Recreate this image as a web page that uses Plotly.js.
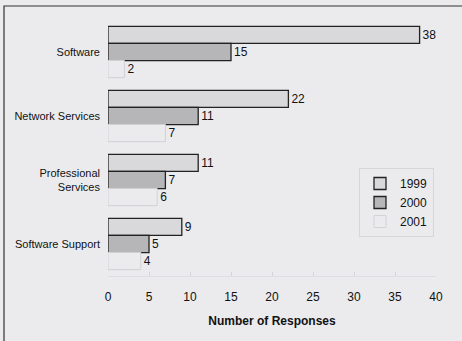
<!DOCTYPE html>
<html><head><meta charset="utf-8">
<script src="https://cdn.plot.ly/plotly-3.0.1.min.js"></script>
<style>html,body{margin:0;padding:0;background:#ebebee;}#c{width:462px;height:341px;}</style>
</head><body><div id="c"></div>
<script>
const categories = ["Software", "Network Services", "Professional<br>Services", "Software Support"];
const years = ["1999", "2000", "2001"];
const v1999 = [38, 22, 11, 9];
const v2000 = [15, 11, 7, 5];
const v2001 = [2, 7, 6, 4];
const xTicks = [0, 5, 10, 15, 20, 25, 30, 35, 40];

const fills = ["#d9d9db", "#b6b6b8", "#ebebee"];
const lines = ["#222222", "#222222", "#d2d2d5"];
const series = [v1999, v2000, v2001];
const traces = series.map((vals, i) => ({
  type: "bar", orientation: "h", name: years[i],
  y: categories, x: vals,
  text: vals.map(String), textposition: "outside", cliponaxis: false,
  textfont: {family: "Liberation Sans, Arial", size: 12, color: "#111"},
  marker: {color: fills[i], line: {color: lines[i], width: i < 2 ? 1.3 : 1}},
  hoverinfo: "none"
}));

const layout = {
  width: 462, height: 341,
  paper_bgcolor: "#ebebee", plot_bgcolor: "#ebebee",
  margin: {l: 108, r: 26, t: 20, b: 65},
  font: {family: "Liberation Sans, Arial", color: "#111", size: 12},
  barmode: "group", bargap: 0.2, bargroupgap: 0,
  xaxis: {range: [0, 40], tickvals: xTicks, showgrid: false, zeroline: false,
    showline: true, linecolor: "#dedee2", linewidth: 1,
    ticks: "inside", ticklen: 4, tickcolor: "#d6d6da",
    tickfont: {size: 12}, ticklabelstandoff: 10,
    title: {text: "<b>Number of Responses</b>", font: {size: 12}, standoff: 13}},
  yaxis: {autorange: "reversed", showgrid: false, zeroline: false, showline: false,
    ticks: "", tickfont: {size: 11}, ticklabelstandoff: 7},
  legend: {x: (359 - 108) / 328, y: (276 - 168) / 256, xanchor: "left", yanchor: "top", traceorder: "normal",
    bgcolor: "rgba(0,0,0,0)", bordercolor: "#d6d6d9", borderwidth: 1,
    font: {size: 12}, itemwidth: 30, tracegroupgap: 0},
  shapes: [{type: "rect", xref: "paper", yref: "paper", layer: "below",
    x0: -104/328, x1: 1 + 60/328, y0: -90/256, y1: 1 + 14/256,
    line: {color: "#333", width: 1.2}, fillcolor: "rgba(0,0,0,0)"}]
};
Plotly.newPlot("c", traces, layout, {staticPlot: true});
</script></body></html>
